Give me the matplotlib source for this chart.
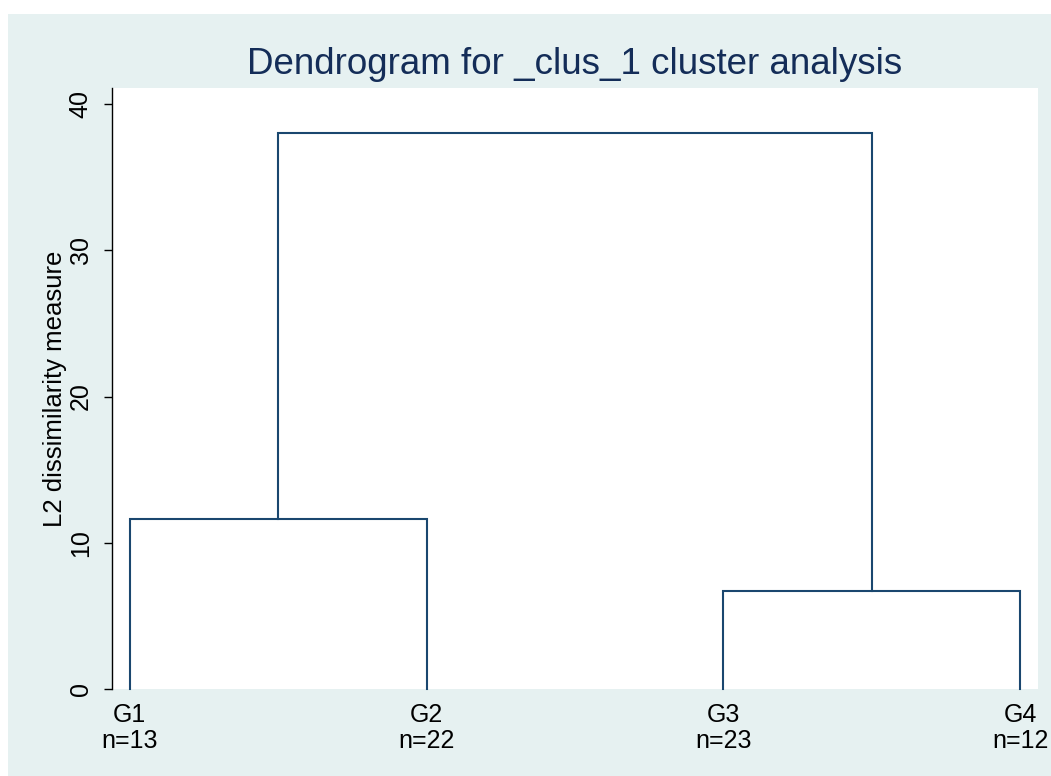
import matplotlib
matplotlib.use("Agg")
import matplotlib.pyplot as plt
from matplotlib.patches import Rectangle

plt.rcParams['font.family'] = ['Liberation Sans', 'DejaVu Sans']

# data
groups = ["G1", "G2", "G3", "G4"]
counts = [13, 22, 23, 12]
# merges: (left node, right node, height); nodes 0-3 are leaves, 4+ are merged clusters
merges = [(0, 1, 11.65), (2, 3, 6.7), (4, 5, 38.0)]

line_col = "#1a476f"
bg_col = "#e6f1f1"

fig = plt.figure(figsize=(10.51, 7.76), dpi=100)
fig.patch.set_facecolor("white")
fig.patches.append(Rectangle((8 / 1051, -0.01), 1.1, 1.01 - 14 / 776, transform=fig.transFigure,
                             facecolor=bg_col, edgecolor="none", zorder=-10))

ax = fig.add_axes([112 / 1051, 1 - 689 / 776, (1038 - 112) / 1051, (689 - 88) / 776])
ax.set_facecolor("white")

# node positions and heights
xpos = {i: i + 1 for i in range(len(groups))}
ypos = {i: 0.0 for i in range(len(groups))}
for k, (a, b, h) in enumerate(merges):
    node = len(groups) + k
    ax.plot([xpos[a], xpos[a], xpos[b], xpos[b]], [ypos[a], h, h, ypos[b]],
            color=line_col, lw=1.5, solid_joinstyle="miter", clip_on=False)
    xpos[node] = (xpos[a] + xpos[b]) / 2
    ypos[node] = h

ax.set_xlim(0.94, 4.06)
ax.set_ylim(0, 41.1)

for s in ["top", "right", "bottom"]:
    ax.spines[s].set_visible(False)
ax.spines["left"].set_linewidth(1.0)

ax.set_yticks([0, 10, 20, 30, 40])
ax.tick_params(axis="y", length=5.8, width=1.0, labelsize=18, pad=8, labelrotation=90)
for lab in ax.get_yticklabels():
    lab.set_va("center")
ax.set_xticks(range(1, len(groups) + 1))
ax.set_xticklabels([f"{g}\nn={n}" for g, n in zip(groups, counts)], linespacing=1.1)
ax.tick_params(axis="x", length=0, labelsize=18, pad=10)

ax.set_ylabel("L2 dissimilarity measure", fontsize=18.5, labelpad=1)
ax.set_title("Dendrogram for _clus_1 cluster analysis", fontsize=26.5, color="#142d58", pad=10)

fig.savefig("out.png", dpi=100, facecolor=fig.get_facecolor())
